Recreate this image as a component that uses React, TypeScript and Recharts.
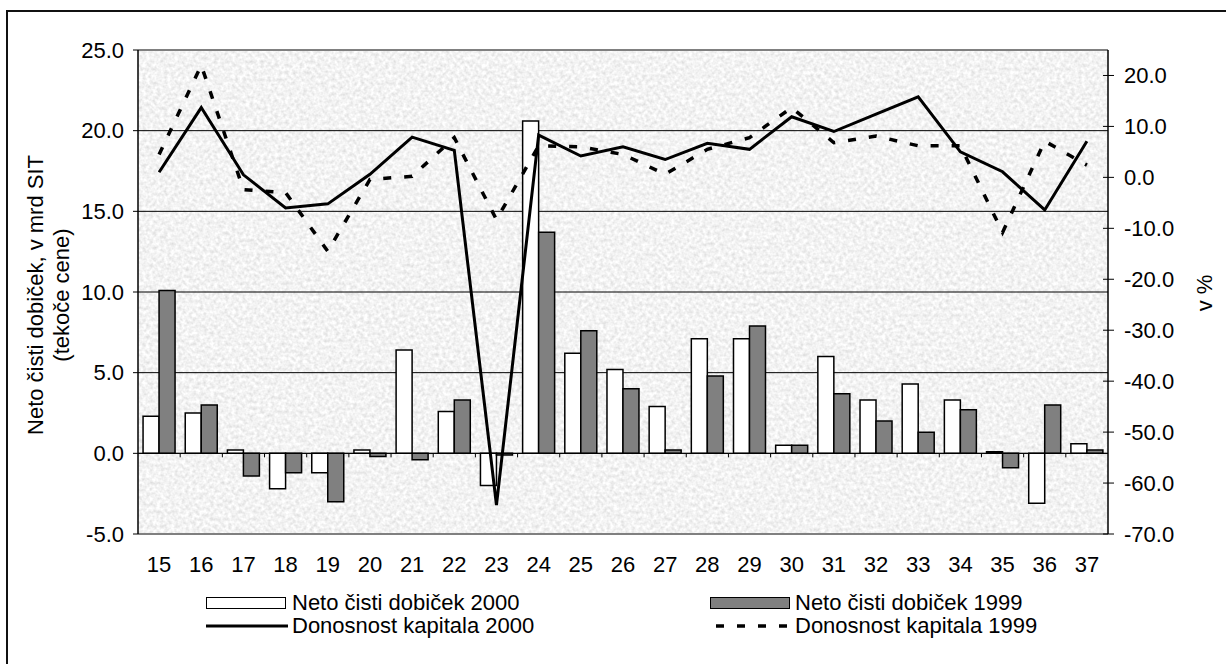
import React from 'react'
import {
  Bar,
  CartesianGrid,
  ComposedChart,
  Line,
  ReferenceLine,
  XAxis,
  YAxis,
} from 'recharts'

// podjetja (oznake kategorij)
const categories = [
  '15', '16', '17', '18', '19', '20', '21', '22', '23', '24', '25', '26',
  '27', '28', '29', '30', '31', '32', '33', '34', '35', '36', '37',
]

// neto čisti dobiček, mrd SIT
const profit2000 = [
  2.3, 2.5, 0.2, -2.2, -1.2, 0.2, 6.4, 2.6, -2.0, 20.6, 6.2, 5.2,
  2.9, 7.1, 7.1, 0.5, 6.0, 3.3, 4.3, 3.3, 0.1, -3.1, 0.6,
]
const profit1999 = [
  10.1, 3.0, -1.4, -1.2, -3.0, -0.2, -0.4, 3.3, -0.1, 13.7, 7.6, 4.0,
  0.2, 4.8, 7.9, 0.5, 3.7, 2.0, 1.3, 2.7, -0.9, 3.0, 0.2,
]

// donosnost kapitala, v %
const roe2000 = [
  1.0, 13.7, 0.5, -6.0, -5.2, 0.6, 7.9, 5.3, -64.3, 8.3, 4.2, 6.0,
  3.5, 6.7, 5.5, 11.9, 9.0, 12.4, 15.8, 5.0, 1.1, -6.4, 7.1,
]
const roe1999 = [
  4.5, 22.0, -2.4, -3.0, -14.5, -0.4, 0.2, 7.8, -8.3, 6.2, 6.0, 4.5,
  0.6, 5.5, 7.8, 13.7, 6.8, 8.1, 6.2, 6.2, -10.8, 7.1, 2.4,
]

const leftTicks = [-5, 0, 5, 10, 15, 20, 25]
const rightTicks = [-70, -60, -50, -40, -30, -20, -10, 0, 10, 20]

const data = categories.map((c, i) => ({
  cat: c,
  p2000: profit2000[i],
  p1999: profit1999[i],
  r2000: roe2000[i],
  r1999: roe1999[i],
}))

const FONT = '"Liberation Sans", Arial, sans-serif'

function RightTick({ x, y, payload }: any) {
  return (
    <g>
      <line x1={x - 5} x2={x + 6} y1={y} y2={y} stroke="#000" strokeWidth={1} />
      <text x={x + 16} y={y} dy="0.35em" fontSize={22} fill="#000" fontFamily={FONT}>
        {Number(payload.value).toFixed(1)}
      </text>
    </g>
  )
}

// nulta črta z oznakami med kategorijami
function ZeroLine({ x1, y1, x2, y2 }: any) {
  const n = categories.length
  const step = (x2 - x1) / n
  return (
    <g>
      <line x1={x1} x2={x2} y1={y1} y2={y2} stroke="#000" strokeWidth={1} />
      {categories.slice(1).map((_, i) => (
        <line
          key={i}
          x1={x1 + step * (i + 1)}
          x2={x1 + step * (i + 1)}
          y1={y1}
          y2={y1 + 4}
          stroke="#000"
          strokeWidth={1}
        />
      ))}
    </g>
  )
}

const legendText: React.CSSProperties = {
  position: 'absolute',
  fontSize: 22,
  lineHeight: '24px',
  color: '#000',
  whiteSpace: 'nowrap',
}

const legendBox: React.CSSProperties = {
  position: 'absolute',
  top: 597,
  width: 78,
  height: 10,
  border: '1.5px solid #000',
}

export default function App() {
  return (
    <div
      style={{
        position: 'absolute',
        left: 0,
        top: 0,
        width: 1226,
        height: 664,
        overflow: 'hidden',
        background: '#fff',
        fontFamily: FONT,
      }}
    >
      <div
        style={{
          position: 'absolute',
          left: 6,
          top: 10,
          width: 1240,
          height: 700,
          border: '2px solid #111',
          boxSizing: 'border-box',
        }}
      />
      {/* zrnata podlaga risalne površine */}
      <svg style={{ position: 'absolute', left: 0, top: 0 }} width={1226} height={664}>
        <defs>
          <filter id="grain" x="0" y="0" width="100%" height="100%">
            <feTurbulence type="fractalNoise" baseFrequency="0.28" numOctaves={2} seed={7} />
            <feColorMatrix
              type="matrix"
              values="0.45 0 0 0 0.67  0.45 0 0 0 0.67  0.45 0 0 0 0.67  0 0 0 0 1"
            />
          </filter>
        </defs>
        <rect x={138} y={50} width={970} height={484} filter="url(#grain)" />
      </svg>
      <div style={{ position: 'absolute', left: 0, top: 0 }}>
        <ComposedChart
          width={1226}
          height={664}
          data={data}
          margin={{ top: 50, right: 0, bottom: 90, left: 0 }}
          barCategoryGap="12%"
          barGap={0}
        >
          <CartesianGrid
            yAxisId="left"
            vertical={false}
            stroke="#000"
            strokeWidth={1}
            fill="none"
          />
          <XAxis
            dataKey="cat"
            interval={0}
            height={40}
            axisLine={{ stroke: '#808080', strokeWidth: 2 }}
            tickLine={false}
            tickSize={0}
            tickMargin={22}
            tick={{ fontSize: 22, fill: '#000', fontFamily: FONT }}
          />
          <YAxis
            yAxisId="left"
            domain={[-5, 25]}
            ticks={leftTicks}
            interval={0}
            width={138}
            allowDataOverflow
            tickFormatter={(v: number) => v.toFixed(1)}
            axisLine={{ stroke: '#000', strokeWidth: 1.5 }}
            tickLine={{ stroke: '#000' }}
            tickSize={5}
            tickMargin={9}
            tick={{ fontSize: 22, fill: '#000', fontFamily: FONT }}
          />
          <YAxis
            yAxisId="right"
            orientation="right"
            domain={[-70, 25]}
            ticks={rightTicks}
            interval={0}
            width={118}
            allowDataOverflow
            axisLine={{ stroke: '#000', strokeWidth: 1.5 }}
            tickLine={false}
            tickSize={0}
            tickMargin={0}
            tick={<RightTick />}
          />
          <ReferenceLine yAxisId="left" y={25} stroke="#808080" strokeWidth={2} />
          <Bar
            yAxisId="left"
            dataKey="p2000"
            fill="#ffffff"
            stroke="#000"
            strokeWidth={1.5}
            isAnimationActive={false}
          />
          <Bar
            yAxisId="left"
            dataKey="p1999"
            fill="#808080"
            stroke="#000"
            strokeWidth={1.5}
            isAnimationActive={false}
          />
          <ReferenceLine yAxisId="left" y={0} shape={<ZeroLine />} />
          <Line
            yAxisId="right"
            type="linear"
            dataKey="r2000"
            stroke="#000"
            strokeWidth={3}
            dot={false}
            activeDot={false}
            isAnimationActive={false}
          />
          <Line
            yAxisId="right"
            type="linear"
            dataKey="r1999"
            stroke="#000"
            strokeWidth={3.5}
            strokeDasharray="8 13"
            dot={false}
            activeDot={false}
            isAnimationActive={false}
          />
        </ComposedChart>
      </div>

      {/* naslov leve osi */}
      <div
        style={{
          position: 'absolute',
          left: 49,
          top: 295,
          transform: 'translate(-50%, -50%) rotate(-90deg)',
          fontSize: 22,
          lineHeight: '26px',
          textAlign: 'center',
          whiteSpace: 'nowrap',
          color: '#000',
        }}
      >
        Neto čisti dobiček, v mrd SIT
        <br />
        (tekoče cene)
      </div>
      {/* naslov desne osi */}
      <div
        style={{
          position: 'absolute',
          left: 1205,
          top: 293,
          transform: 'translate(-50%, -50%) rotate(-90deg)',
          fontSize: 22,
          whiteSpace: 'nowrap',
          color: '#000',
        }}
      >
        v %
      </div>

      {/* legenda */}
      <div style={{ ...legendBox, left: 206, background: '#fff' }} />
      <div style={{ ...legendText, left: 292, top: 591 }}>Neto čisti dobiček 2000</div>
      <div style={{ ...legendBox, left: 710, background: '#808080' }} />
      <div style={{ ...legendText, left: 795, top: 591 }}>Neto čisti dobiček 1999</div>
      <svg style={{ position: 'absolute', left: 0, top: 0 }} width={1226} height={664}>
        <line x1={206} x2={288} y1={626} y2={626} stroke="#000" strokeWidth={3} />
        <line x1={716} x2={790} y1={626} y2={626} stroke="#000" strokeWidth={3.5} strokeDasharray="8 13" />
      </svg>
      <div style={{ ...legendText, left: 292, top: 614 }}>Donosnost kapitala 2000</div>
      <div style={{ ...legendText, left: 795, top: 614 }}>Donosnost kapitala 1999</div>
    </div>
  )
}
